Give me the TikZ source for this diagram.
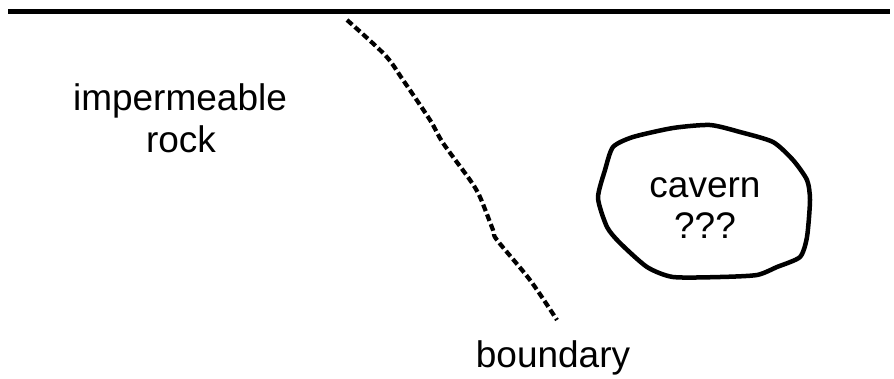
\documentclass[tikz,border=0pt]{standalone}
\usepackage{fontspec}
\setmainfont{Liberation Sans}
\begin{document}
\begin{tikzpicture}[x=1pt,y=-1pt,
  lbl/.style={inner sep=0pt,anchor=base,font=\fontsize{37}{42}\selectfont},
  surface/.style={line width=5pt},
  bound/.style={line width=4.2pt,dash pattern=on 7pt off 3.5pt},
  cave/.style={line width=4.5pt,line join=round}]
\useasboundingbox (0,0) rectangle (894,378);
\draw[surface] (8,11.5) coordinate (sl) -- (890,11.5) coordinate (sr);
\draw[bound] plot[smooth,tension=0.5] coordinates {(347,20) (385,55) (403,80) (430,120) (443,143) (470,180) (480,197) (493,230) (497,240) (530,280) (557,320)};
\draw[cave] plot[smooth cycle,tension=0.4] coordinates {(710,125) (740,132) (773,142) (793,160) (807,180) (810,200) (807,237) (800,257) (777,267) (757,275) (720,277) (673,277) (647,267) (620,243) (607,227) (598,198) (605,170) (613,147) (633,137) (673,128)};
\node[lbl] (imp) at (180,110) {impermeable};
\node[lbl] (rock) at (181,152) {rock};
\node[lbl] (cav) at (705,197) {cavern};
\node[lbl] (q) at (705,238) {???};
\node[lbl] (bd) at (553,367) {boundary};
\end{tikzpicture}
\end{document}
